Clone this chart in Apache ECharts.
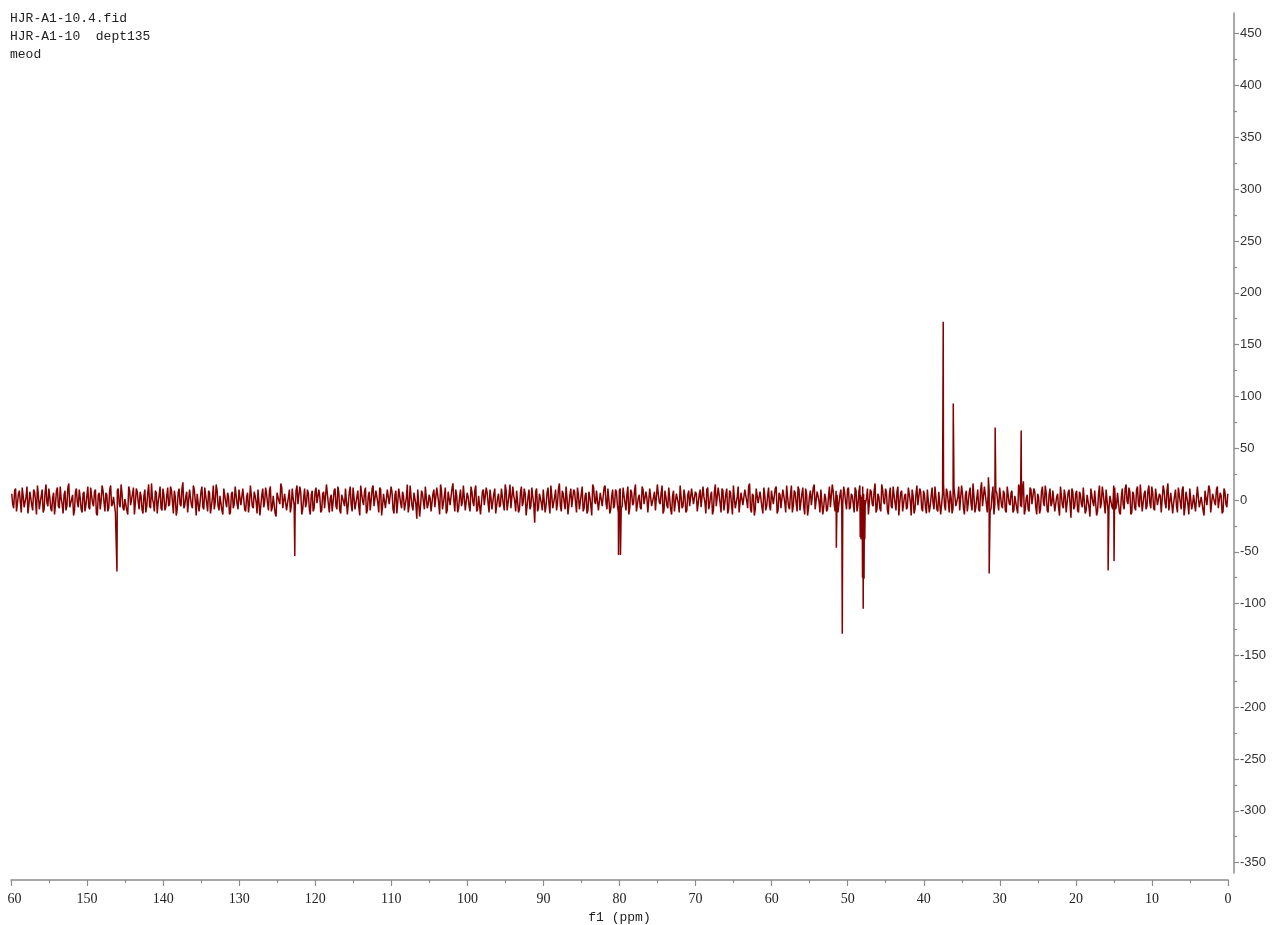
<!DOCTYPE html>
<html>
<head>
<meta charset="utf-8">
<script src="https://cdn.jsdelivr.net/npm/echarts@6/dist/echarts.min.js"></script>
<style>html,body{margin:0;padding:0;background:#fff;}#c{width:1274px;height:925px;}</style>
</head>
<body>
<div id="c"></div>
<script>
// Header text lines
const headerLines = ['HJR-A1-10.4.fid', 'HJR-A1-10  dept135', 'meod'];
const xAxisName = 'f1 (ppm)';
// Y tick labels
const yTickValues = [-350,-300,-250,-200,-150,-100,-50,0,50,100,150,200,250,300,350,400,450];
const yMinorValues = [-325,-275,-225,-175,-125,-75,-25,25,75,125,175,225,275,325,375,425];
// Baseline noise: two interleaved sample sets, every 0.25 ppm
const noiseStart = 159.9;
const noiseStart2 = 159.775;
const noiseStep = 0.25;
const noise = [
6,-8,11,-3,9,-12,4,-7,13,-5,2,-10,8,-14,5,-2,10,-9,15,-6,3,-11,7,-4,12,-8,1,-13,9,-6,16,-3,5,-10,11,-7,2,-12,8,-5,
13,-9,4,-6,10,-15,7,-1,9,-11,5,-8,14,-4,3,-12,11,-7,6,-10,2,-14,9,-5,12,-3,8,-9,4,-13,10,-6,15,-8,1,-11,7,-2,13,-10,
5,-7,12,-4,9,-13,3,-9,11,-6,17,-5,8,-12,2,-8,10,-15,6,-3,13,-9,4,-11,7,-6,14,-2,9,-10,5,-14,11,-7,3,-12,8,-4,12,-9,
2,-6,10,-11,7,-3,15,-8,4,-13,9,-5,11,-2,6,-10,13,-7,3,-16,8,-4,12,-9,5,-11,10,-6,1,-12,14,-5,7,-9,11,-3,6,-14,9,-8,
12,-4,3,-10,8,-7,16,-12,5,-2,11,-9,7,-13,4,-6,10,-3,13,-11,2,-8,9,-15,6,-5,12,-10,8,-1,14,-7,3,-12,10,-6,5,-9,11,-4,
7,-13,9,-2,12,-8,4,-11,15,-6,3,-10,8,-18,11,-5,6,-9,13,-4,2,-12,10,-7,5,-14,9,-3,12,-10,7,-6,16,-11,4,-8,10,-2,13,-9,
3,-11,8,-6,14,-9,5,-15,10,-4,7,-12,2,-8,11,-13,6,-5,12,-10,9,-3,15,-7,4,-11,8,-9,13,-2,6,-14,10,-6,3,-22,11,-8,5,-10,
9,-5,12,-13,4,-7,10,-3,16,-11,6,-9,2,-14,11,-6,8,-12,5,-2,13,-8,7,-10,3,-15,12,-4,9,-11,6,-7,14,-9,1,-9,10,-5,8,-12,
11,-6,4,-10,13,-8,7,-3,15,-12,5,-9,10,-5,2,-13,12,-7,8,-11,6,-4,14,-10,3,-8,11,-14,9,-2,7,-12,13,-6,4,-10,9,-7,12,-5,
6,-11,10,-8,3,-13,12,-4,8,-10,15,-6,5,-12,9,-3,11,-9,7,-14,2,-7,13,-11,6,-5,10,-8,16,-12,4,-9,11,-3,8,-13,5,-6,12,-10,
8,-4,13,-10,5,-7,11,-12,3,-9,14,-6,7,-11,10,-2,12,-14,6,-8,9,-5,15,-10,4,-12,11,-7,2,-9,13,-6,8,-11,5,-13,10,-4,7,-9,
12,-7,4,-12,9,-5,14,-10,6,-3,11,-13,8,-6,16,-9,3,-11,10,-4,7,-14,12,-8,5,-10,13,-2,9,-12,6,-7,11,-15,4,-9,14,-6,8,-11,
5,-13,10,-6,12,-9,3,-11,8,-4,15,-10,7,-12,2,-8,11,-5,13,-9,6,-14,9,-3,12,-10,4,-7,10,-11,17,-6,5,-12,9,-8,13,-4,7,-10,
11,-8,6,-12,14,-5,9,-10,4,-13,12,-7,18,-9,5,-11,10,-4,8,-14,3,-9,13,-6,7,-12,11,-3,9,-10,6,-15,12,-8,4,-11,10,-17,8,-6,
9,-12,5,-7,13,-10,4,-16,11,-6,8,-11,14,-3,6,-13,10,-8,3,-9,12,-5,7,-14,11,-9,15,-4,8,-12,5,-10,13,-7,2,-11,9,-6,14,-8,
7,-10,12,-5,4,-13,9,-8,16,-11,6,-3,10,-12,5,-9,13,-7,8,-14,11,-4,6,-10,12,-8,3,-15,9,-6,10,-12,7,-5,13,-9,4,-11,8,-7
];
const noise2 = [
-4,9,-11,6,-2,12,-7,3,-13,8,-5,10,-1,14,-9,4,-12,7,-3,11,-8,2,-14,9,-6,13,-4,5,-10,12,-7,1,-15,8,-3,10,-9,6,-11,4,
-7,12,-3,8,-13,5,-9,14,-2,7,-11,10,-6,3,-12,9,-4,15,-8,1,-10,13,-5,6,-14,11,-2,8,-9,4,-12,7,-6,16,-3,9,-13,5,-8,11,
-10,4,-6,13,-2,9,-15,7,-4,11,-8,3,-12,10,-5,14,-1,6,-11,8,-7,12,-3,9,-13,2,-9,15,-6,4,-10,11,-2,7,-14,6,-8,13,-4,10,
-5,11,-9,3,-12,14,-6,8,-2,10,-15,5,-7,12,-3,9,-11,4,-13,7,-1,16,-8,6,-10,3,-12,11,-5,9,-4,13,-14,2,-7,10,-9,5,-11,8,
-3,10,-12,6,-8,15,-4,2,-11,9,-6,13,-10,5,-2,11,-14,7,-5,12,-9,3,-7,14,-1,8,-13,4,-10,11,-6,9,-3,12,-15,6,-8,10,-4,13,
-9,5,-13,11,-3,8,-10,2,-12,14,-6,7,-4,10,-16,9,-2,13,-8,5,-11,6,-7,12,-3,15,-9,4,-13,8,-5,11,-1,10,-12,3,-6,14,-10,7,
-6,13,-2,9,-11,4,-14,8,-5,12,-3,10,-9,6,-13,2,-7,11,-4,15,-10,5,-8,13,-1,9,-12,7,-6,11,-15,3,-9,12,-4,8,-11,6,-3,10,
-12,7,-4,14,-8,3,-10,11,-6,9,-2,13,-14,5,-7,10,-3,12,-9,6,-11,4,-13,8,-5,15,-1,9,-10,7,-6,12,-3,11,-13,4,-8,10,-5,9,
-8,12,-3,6,-14,10,-5,9,-11,2,-7,13,-4,8,-12,11,-6,3,-10,15,-2,7,-13,9,-5,12,-9,4,-11,6,-3,14,-8,10,-12,5,-6,11,-4,8,
-11,5,-7,13,-2,10,-9,4,-14,8,-6,12,-3,11,-10,6,-13,9,-4,14,-8,3,-12,7,-5,10,-1,13,-9,6,-15,11,-3,8,-7,12,-10,4,-6,9,
-4,11,-13,7,-8,10,-2,14,-6,5,-12,9,-3,13,-10,6,-7,11,-15,4,-5,12,-9,8,-1,10,-14,6,-11,3,-7,15,-4,9,-12,5,-8,13,-2,10,
-9,6,-3,12,-11,8,-5,13,-7,2,-14,10,-4,9,-12,6,-8,15,-2,11,-10,5,-6,13,-3,8,-15,7,-11,4,-9,12,-1,10,-13,6,-5,11,-8,9,
-7,10,-12,4,-3,13,-9,8,-14,6,-5,11,-2,9,-13,12,-6,3,-10,14,-8,5,-11,7,-4,16,-12,2,-9,10,-6,13,-3,8,-11,5,-14,9,-2,12,
-5,9,-10,13,-3,7,-12,4,-8,15,-6,10,-14,2,-9,12,-4,11,-7,6,-13,8,-2,14,-10,5,-6,9,-11,3,-8,13,-5,10,-12,7,-3,11,-9,6,
-10,8,-4,12,-13,5,-7,11,-2,9,-15,6,-8,13,-3,10,-11,4,-6,14,-9,7,-12,3,-5,11,-1,12,-14,8,-7,10,-4,15,-11,6,-9,9,-3,13,
-8,11,-5,6,-12,14,-3,9,-10,7,-13,4,-6,12,-2,10,-15,8,-4,11,-9,5,-11,13,-7,3,-10,9,-5,14,-12,6,-2,10,-8,7,-13,11,-4,6
];
// Resonance peaks (ppm, intensity)
const peakPpm = [146.07, 122.69, 80.13, 79.87, 51.49, 50.71,
  48.35, 48.3, 48.25, 48.2, 48.15, 48.1, 48.05, 48.0, 47.96, 47.9, 47.85, 47.8, 47.75, 47.7,
  37.52, 37.44, 36.12, 31.5, 31.40, 30.61, 27.19, 15.76, 14.98];
const peakVal = [-69, -54, -53, -53, -46, -129,
  -36, 5, -38, 3, -37, -2, -75, -10, -105, -20, -76, 0, -38, -5,
  22, 172, 93, 22, -71, 70, 67, -68, -59];

const pts = [];
noise.forEach((v, i) => pts.push([+(noiseStart - i * noiseStep).toFixed(3), v]));
noise2.forEach((v, i) => pts.push([+(noiseStart2 - i * noiseStep).toFixed(3), v]));
peakPpm.forEach((p, i) => pts.push([p, peakVal[i]]));
pts.sort((a, b) => b[0] - a[0]);

const chart = echarts.init(document.getElementById('c'), null, {renderer: 'canvas'});
const axisGray = '#8c8c8c';
chart.setOption({
  animation: false,
  backgroundColor: '#fff',
  title: {
    text: headerLines.join('\n'),
    left: 10, top: 10, padding: 0,
    textStyle: {fontFamily: 'Liberation Mono', fontSize: 13, fontWeight: 'normal', color: '#222', lineHeight: 18}
  },
  grid: {left: 11, right: 46, top: 13, bottom: 52, outerBoundsMode: 'none', containLabel: false},
  xAxis: {
    type: 'value', inverse: true, min: 0, max: 160, interval: 10,
    offset: 7,
    name: xAxisName, nameLocation: 'middle', nameGap: 24,
    nameTextStyle: {fontFamily: 'Liberation Mono', fontSize: 13, color: '#222'},
    axisLine: {show: true, onZero: false, lineStyle: {color: axisGray, width: 1.5}},
    axisTick: {show: true, length: 6, lineStyle: {color: axisGray, width: 1.2}},
    minorTick: {show: true, splitNumber: 2, length: 3, lineStyle: {color: axisGray, width: 1.2}},
    splitLine: {show: false},
    axisLabel: {margin: 12, fontFamily: 'Liberation Serif', fontSize: 14, color: '#222'}
  },
  yAxis: [{
    type: 'value', position: 'right', min: -360, max: 470, offset: 6,
    axisLine: {show: true, onZero: false, lineStyle: {color: axisGray, width: 1.5}},
    axisTick: {show: true, length: 5, customValues: yTickValues, lineStyle: {color: axisGray, width: 1.2}},
    splitLine: {show: false},
    axisLabel: {customValues: yTickValues, margin: 6, fontFamily: 'Liberation Sans', fontSize: 13, color: '#333'}
  }, {
    type: 'value', position: 'right', min: -360, max: 470, offset: 6,
    axisLine: {show: true, onZero: false, lineStyle: {color: 'rgba(0,0,0,0)', width: 1}},
    axisTick: {show: true, inside: false, length: 3, customValues: yMinorValues, lineStyle: {color: axisGray, width: 1.2}},
    splitLine: {show: false},
    axisLabel: {show: false, customValues: yMinorValues}
  }],
  graphic: [{
    type: 'rect', left: 0, top: 886, z: 100,
    shape: {width: 7, height: 22}, style: {fill: '#fff'}
  }],
  series: [{
    type: 'line', data: pts, yAxisIndex: 0, showSymbol: false, symbol: 'none',
    sampling: null, silent: true,
    lineStyle: {color: '#850000', width: 1.5}
  }]
});
</script>
</body>
</html>
